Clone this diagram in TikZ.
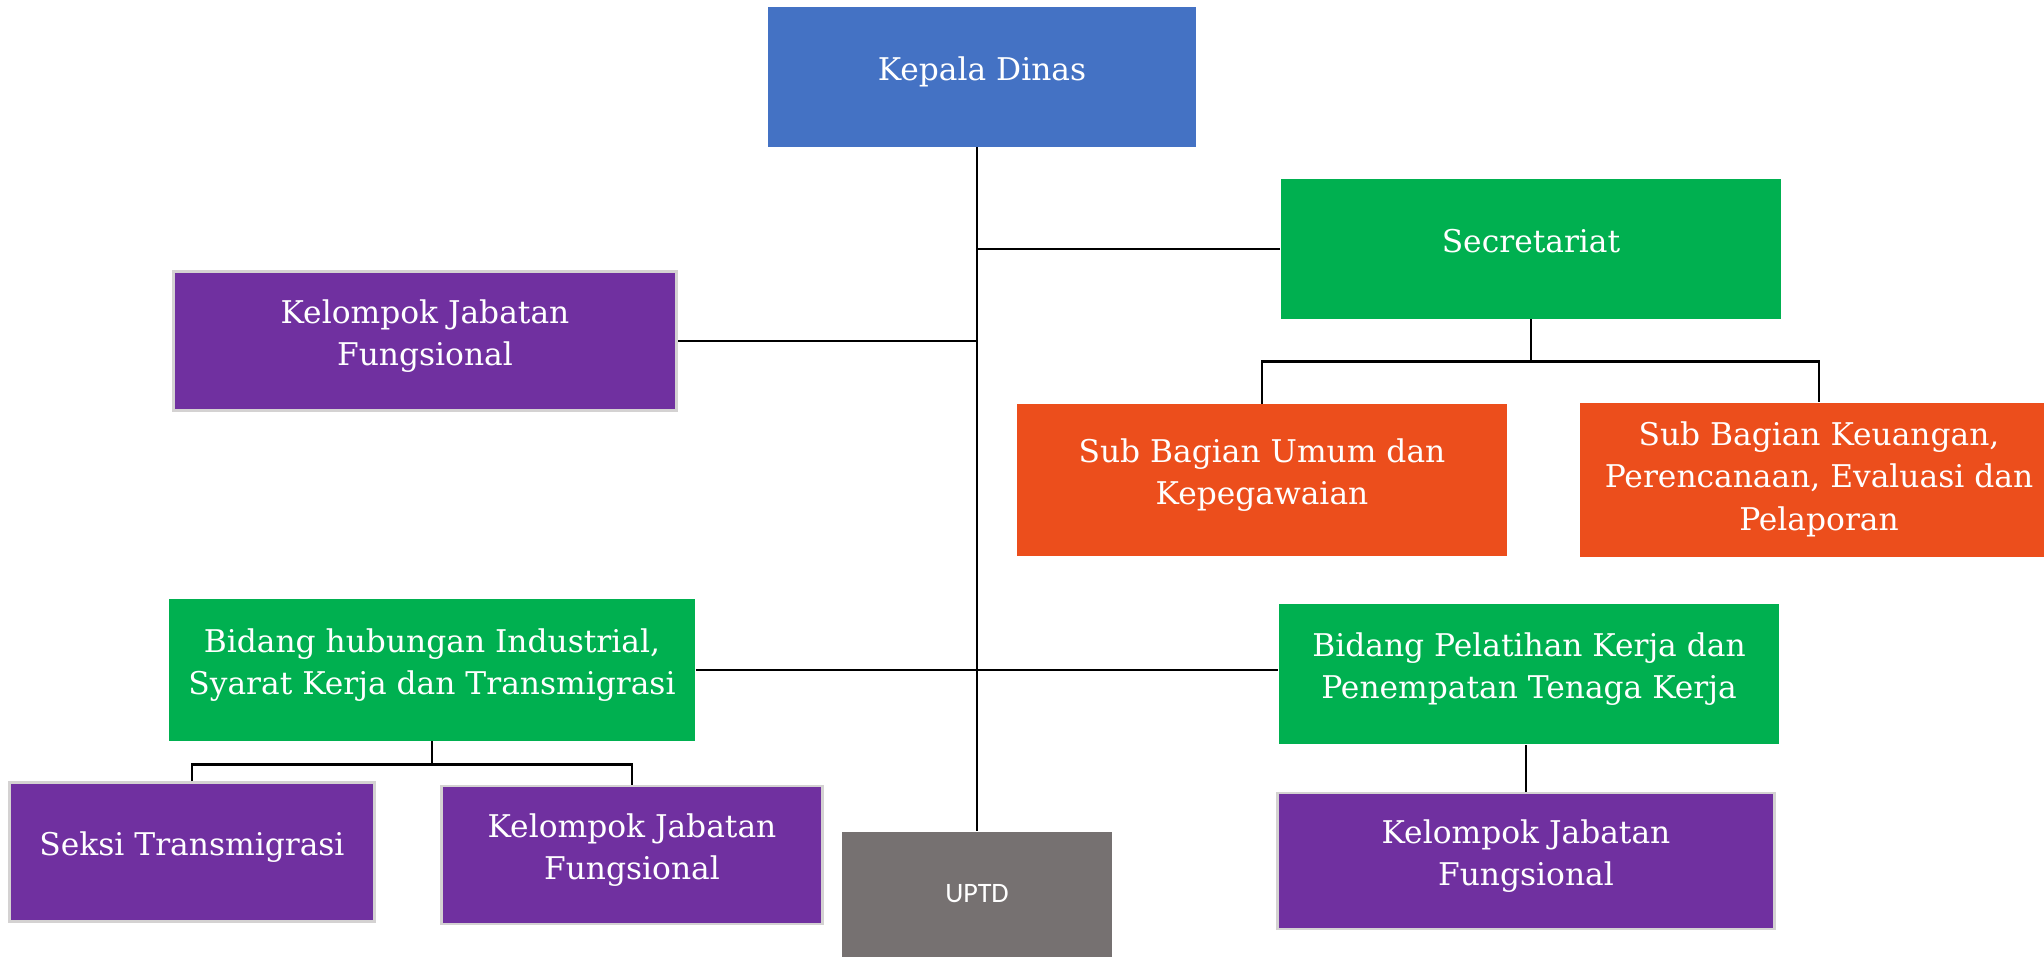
\documentclass[tikz,border=0pt]{standalone}
\usepackage{fontspec}
\setmainfont{DejaVu Serif}
\newfontfamily\uptdfont{Carlito}
\definecolor{headblue}{HTML}{4472C4}
\definecolor{unitgreen}{HTML}{00B050}
\definecolor{subred}{HTML}{EC4E1C}
\definecolor{groupviolet}{HTML}{7030A0}
\definecolor{uptdgray}{HTML}{767171}
\definecolor{edgegray}{HTML}{D4D2D2}

\begin{document}
\begin{tikzpicture}[
  x=0.01cm, y=-0.01cm,
  font=\fontsize{8.9}{12}\selectfont,
  box/.style={rectangle, align=center, text=white, inner sep=0pt, text depth=0.16cm, minimum height=1.39cm},
  violetbox/.style={box, fill=groupviolet, draw=edgegray, line width=0.8pt},
  line/.style={draw=black, line width=0.8pt}
]
\clip (0,0) rectangle (2044,957);

\node[box, fill=headblue, minimum width=4.27cm] (kepala) at (982,77) {Kepala Dinas};
\node[box, fill=unitgreen, minimum width=5.00cm] (secretariat) at (1531,249) {Secretariat};
\node[violetbox, minimum width=5.03cm] (kjfTop) at (425,341) {Kelompok Jabatan\\Fungsional};
\node[box, fill=subred, minimum width=4.89cm, minimum height=1.51cm] (subUmum) at (1262,480)
  {Sub Bagian Umum dan\\Kepegawaian};
\node[box, fill=subred, minimum width=4.78cm, minimum height=1.54cm, text depth=0.08cm] (subKeu) at (1819,480)
  {Sub Bagian Keuangan,\\Perencanaan, Evaluasi dan\\Pelaporan};
\node[box, fill=unitgreen, minimum width=5.26cm, minimum height=1.41cm] (bidangHI) at (432,670)
  {Bidang hubungan Industrial,\\Syarat Kerja dan Transmigrasi};
\node[box, fill=unitgreen, minimum width=5.00cm, minimum height=1.40cm] (bidangPK) at (1529,674)
  {Bidang Pelatihan Kerja dan\\Penempatan Tenaga Kerja};
\node[violetbox, minimum width=3.64cm] (seksi) at (192,852) {Seksi Transmigrasi};
\node[violetbox, minimum width=3.81cm, minimum height=1.38cm] (kjfMid) at (632,855) {Kelompok Jabatan\\Fungsional};
\node[violetbox, minimum width=4.97cm, minimum height=1.36cm] (kjfRight) at (1526,861) {Kelompok Jabatan\\Fungsional};
\node[box, fill=uptdgray, minimum width=2.70cm, minimum height=1.38cm, font=\uptdfont\fontsize{8}{10}\selectfont] (uptd) at (977,901) {UPTD};

% main line
\draw[line] (uptd.north |- kepala.south) -- (uptd.north);
\draw[line] (secretariat.west) -- (secretariat.west -| uptd.north);
\draw[line] (kjfTop.east) -- (kjfTop.east -| uptd.north);
\draw[line] (bidangHI.east) -- (bidangHI.east -| bidangPK.west);

% branches
\draw[line] (secretariat.south) -- ++(0,42) coordinate (secFork);
\draw[line] (subUmum.north) |- (secFork) -| (subKeu.north);
\draw[line] (bidangHI.south) -- ++(0,23) coordinate (hiFork);
\draw[line] (seksi.north) |- (hiFork) -| (kjfMid.north);
\draw[line] (kjfRight.north) -- (kjfRight.north |- bidangPK.south);
\end{tikzpicture}
\end{document}
